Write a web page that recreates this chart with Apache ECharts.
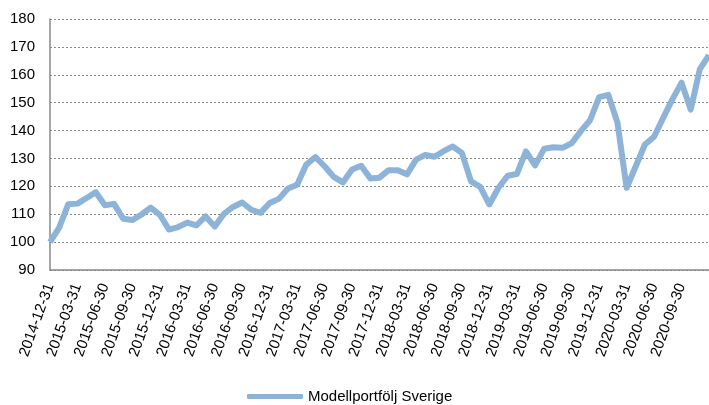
<!DOCTYPE html>
<html>
<head>
<meta charset="utf-8">
<script src="https://cdn.jsdelivr.net/npm/echarts@6/dist/echarts.min.js"></script>
<style>
html,body{margin:0;padding:0;background:#fff;}
#chart{width:709px;height:405px;}
</style>
</head>
<body>
<div id="chart"></div>
<script>
// månadsslut, 2014-12-31 .. 2020-12-31
var dates = [
	'2014-12-31',
	'2015-01-31','2015-02-28','2015-03-31','2015-04-30','2015-05-31','2015-06-30',
	'2015-07-31','2015-08-31','2015-09-30','2015-10-31','2015-11-30','2015-12-31',
	'2016-01-31','2016-02-29','2016-03-31','2016-04-30','2016-05-31','2016-06-30',
	'2016-07-31','2016-08-31','2016-09-30','2016-10-31','2016-11-30','2016-12-31',
	'2017-01-31','2017-02-28','2017-03-31','2017-04-30','2017-05-31','2017-06-30',
	'2017-07-31','2017-08-31','2017-09-30','2017-10-31','2017-11-30','2017-12-31',
	'2018-01-31','2018-02-28','2018-03-31','2018-04-30','2018-05-31','2018-06-30',
	'2018-07-31','2018-08-31','2018-09-30','2018-10-31','2018-11-30','2018-12-31',
	'2019-01-31','2019-02-28','2019-03-31','2019-04-30','2019-05-31','2019-06-30',
	'2019-07-31','2019-08-31','2019-09-30','2019-10-31','2019-11-30','2019-12-31',
	'2020-01-31','2020-02-29','2020-03-31','2020-04-30','2020-05-31','2020-06-30',
	'2020-07-31','2020-08-31','2020-09-30','2020-10-31','2020-11-30','2020-12-31'
];

var seriesName = 'Modellportfölj Sverige';
var values = [
	100,
	105.2, 113.6, 113.8, 115.8, 117.9, 113.2,
	113.7, 108.4, 107.9, 109.9, 112.4, 109.8,
	104.5, 105.4, 107.0, 106.0, 109.2, 105.6,
	110.1, 112.6, 114.2, 111.6, 110.5, 114.0,
	115.5, 119.2, 120.6, 127.8, 130.5, 127.2,
	123.4, 121.4, 126.0, 127.4, 122.8, 123.1,
	125.8, 125.8, 124.3, 129.6, 131.3, 130.6,
	132.6, 134.3, 132.0, 121.8, 119.8, 113.5,
	119.5, 123.8, 124.4, 132.5, 127.5, 133.5,
	134.0, 133.8, 135.5, 139.8, 143.7, 152.0,
	152.8, 142.8, 119.5, 127.2, 135.0, 137.8,
	144.6, 151.2, 157.2, 147.5, 162.0, 167.0
];

var yTicks = [90, 100, 110, 120, 130, 140, 150, 160, 170, 180];

var myChart = echarts.init(document.getElementById('chart'));
var font = 'Liberation Sans, Arial, sans-serif';

var option = {
	backgroundColor: '#fff',
	animation: false,
	textStyle: { fontFamily: font },
	grid: {
		left: 50,
		right: -3.4,   // sista punkten ligger utanför bilden
		top: 19,
		bottom: 135
	},
	legend: {
		data: [seriesName],
		left: 247,
		top: 389,
		padding: 0,
		icon: 'roundRect',
		itemWidth: 56,
		itemHeight: 5,
		itemGap: 4,
		textStyle: { fontSize: 15, color: '#000', fontFamily: font }
	},
	xAxis: {
		type: 'category',
		data: dates,
		boundaryGap: false,
		axisLine: { lineStyle: { color: '#888', width: 1.5 } },
		axisTick: { show: false },
		axisLabel: {
			interval: function (index) { return index % 3 === 0 && index < 72; },
			rotate: 70,
			margin: 14,
			fontSize: 15,
			color: '#000',
			fontFamily: font
		},
		splitLine: { show: false }
	},
	yAxis: {
		type: 'value',
		min: yTicks[0],
		max: yTicks[yTicks.length - 1],
		interval: 10,
		axisLine: { show: true, lineStyle: { color: '#888', width: 1.5 } },
		axisTick: { show: false },
		axisLabel: { fontSize: 15, color: '#000', margin: 15, fontFamily: font },
		splitLine: { lineStyle: { color: '#888', type: [2, 2], width: 1 } }
	},
	series: [
		{
			name: seriesName,
			type: 'line',
			data: values,
			symbol: 'none',
			lineStyle: { color: '#8DB4D8', width: 6, join: 'round' },
			itemStyle: { color: '#8DB4D8' }
		}
	]
};

myChart.setOption(option);
</script>
</body>
</html>
